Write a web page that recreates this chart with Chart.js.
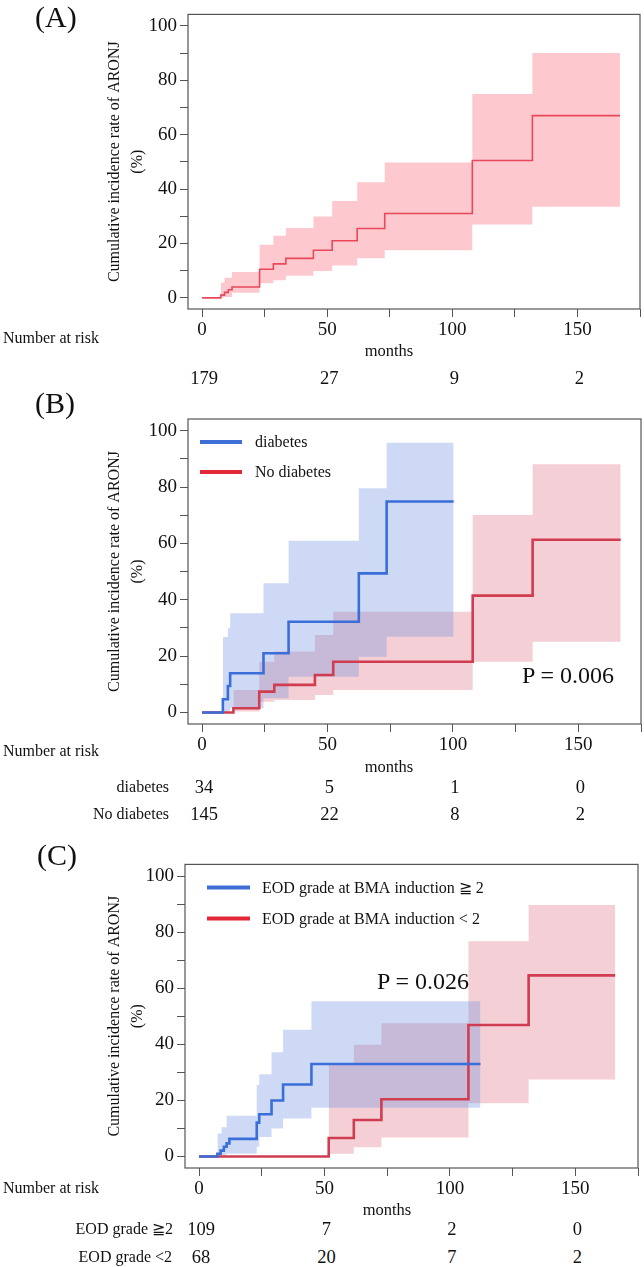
<!DOCTYPE html>
<html>
<head>
<meta charset="utf-8">
<script src="https://cdn.jsdelivr.net/npm/chart.js@4.4.1/dist/chart.umd.min.js"></script>
<style>
  body { margin: 0; background: #fff; }
  #fig { position: relative; width: 644px; height: 1267px; overflow: hidden;
         font-family: 'Liberation Serif', 'Times New Roman', serif; color: #111; }
  #fig canvas { position: absolute; left: 0; }
  .t { position: absolute; white-space: nowrap; line-height: 1; transform: translateY(-50%); }
  .t.c { transform: translate(-50%, -50%); }
  .t.r { transform: translate(-100%, -50%); }
</style>
</head>
<body>
<div id="fig">
  <canvas id="chartA" width="644" height="362" style="top:0px"></canvas>
  <canvas id="chartB" width="644" height="370" style="top:400px"></canvas>
  <canvas id="chartC" width="644" height="350" style="top:850px"></canvas>
</div>
<script>
// axes
const xTicks = [0, 25, 50, 75, 100, 125, 150, 175];
const xLabels = [0, 50, 100, 150];
const yTicks = [0, 10, 20, 30, 40, 50, 60, 70, 80, 90, 100];
const yLabels = [0, 20, 40, 60, 80, 100];
const riskMonths = [0, 50, 100, 150];
const yTitle = ['Cumulative incidence rate of ARONJ', '(%)'];

// (A) all patients
const aTime = [0, 7.5, 9, 10.5, 12, 23, 28.5, 33.5, 44.5, 52, 62, 73, 108, 132, 167];
const aRate = [0, 1, 2, 3, 4, 10.5, 12.5, 14.5, 17.5, 21, 25.5, 31, 50.5, 67, 67];
const aBandTime = [7.5, 9, 12, 23, 28.5, 33.5, 44.5, 52, 62, 73, 108, 132, 167];
const aUpper = [5.6, 7.4, 9.5, 19.5, 22.8, 25.7, 29.9, 35.6, 42.5, 49.8, 74.9, 90, 90];
const aLower = [0, 0.3, 1.9, 5.4, 6.5, 8.1, 9.9, 11.9, 14.6, 17.5, 27, 33.5, 33.5];
const aRisk = [179, 27, 9, 2];

// (B) diabetes / no diabetes
const bDiabTime = [0, 8.3, 10.3, 11.2, 24.5, 34.5, 62.5, 73.6, 100.3];
const bDiabRate = [0, 4.7, 9.4, 13.9, 21, 32.2, 49.4, 74.9, 74.9];
const bDiabBandTime = [8.3, 10.3, 11.2, 24.5, 34.5, 62.5, 73.6, 100.3];
const bDiabUpper = [26.8, 29.9, 35.2, 45.9, 61, 79.6, 95.8, 95.8];
const bDiabLower = [0, 0.5, 1.5, 5, 12.7, 19.8, 26.9, 26.9];
const bNoTime = [0, 12.5, 22.8, 28.8, 45, 52.3, 107.9, 131.8, 166.9];
const bNoRate = [0, 1.5, 7.4, 9.8, 13.3, 18, 41.5, 61.3, 61.3];
const bNoBandTime = [12.5, 22.8, 28.8, 45, 52.3, 107.9, 131.8, 166.9];
const bNoUpper = [8, 18, 21.6, 27.5, 35.8, 70.1, 88.1, 88.1];
const bNoLower = [0.3, 3.8, 4.4, 6.2, 8, 18, 25.1, 25.1];
const bRiskDiab = [34, 5, 1, 0];
const bRiskNo = [145, 22, 8, 2];

// (C) EOD grade at BMA induction
const cHighTime = [0, 7.3, 8.6, 9.9, 11, 12.1, 23, 24, 28.9, 33.5, 44.8, 112.2];
const cHighRate = [0, 1, 2.1, 3.5, 4.7, 6.3, 12.1, 15.1, 20, 25.7, 33, 33];
const cHighBandTime = [7.3, 9, 11, 23, 24, 28.9, 33.5, 44.8, 112.2];
const cHighUpper = [8.2, 10.4, 14.5, 25.5, 29.3, 37.2, 45.2, 55.4, 55.4];
const cHighLower = [0, 0.3, 1, 3.5, 7, 10, 13.6, 17.4, 17.4];
const cLowTime = [0, 51.7, 61.7, 72.7, 107.4, 131.4, 165.9];
const cLowRate = [0, 6.6, 13, 20.4, 46.9, 64.6, 64.6];
const cLowBandTime = [51.7, 61.7, 72.7, 107.4, 131.4, 165.9];
const cLowUpper = [32.8, 39.9, 47.5, 76.8, 89.7, 89.7];
const cLowLower = [1, 3.3, 6.8, 19, 27.5, 27.5];
const cRiskHigh = [109, 7, 2, 0];
const cRiskLow = [68, 20, 7, 2];

const BLUE = '#3a6ed8';
const RED = '#d03c50';
const BLUE_BAND = 'rgba(92,132,222,0.3)';
const RED_BAND = 'rgba(218,95,115,0.3)';

Chart.defaults.font.family = "'Liberation Serif', 'Times New Roman', serif";
Chart.defaults.color = '#111';

const pts = (xs, ys) => xs.map((x, i) => ({ x, y: ys[i] }));

const stepLine = (xs, ys, color, width, order) => ({
  data: pts(xs, ys), borderColor: color, borderWidth: width,
  stepped: true, fill: false, order
});
const band = (xs, upper, lower, color, order) => [
  { data: pts(xs, upper), borderWidth: 0, backgroundColor: color, stepped: true, fill: '+1', order },
  { data: pts(xs, lower), borderWidth: 0, stepped: true, fill: false, order }
];

// frame round the plot area + legend inside it
const framePlugin = (legend) => ({
  id: 'frame',
  afterDraw(chart) {
    const { ctx, chartArea: a } = chart;
    ctx.save();
    ctx.strokeStyle = '#555';
    ctx.lineWidth = 1.2;
    ctx.strokeRect(a.left, a.top, a.right - a.left, a.bottom - a.top);
    if (legend) {
      ctx.font = "16px 'Liberation Serif', serif";
      ctx.textBaseline = 'middle';
      legend.items.forEach((it, i) => {
        const y = a.top + legend.y + i * legend.gap;
        ctx.strokeStyle = it.color;
        ctx.lineWidth = 4;
        ctx.beginPath();
        ctx.moveTo(a.left + legend.x, y);
        ctx.lineTo(a.left + legend.x + legend.len, y);
        ctx.stroke();
        ctx.fillStyle = '#111';
        ctx.fillText(it.text, a.left + legend.tx, y + 1);
      });
    }
    ctx.restore();
  }
});

function makeChart(id, datasets, box, legend) {
  return new Chart(document.getElementById(id), {
    type: 'line',
    data: { datasets },
    options: {
      responsive: false,
      animation: false,
      events: [],
      layout: { padding: { top: box.top, right: box.right, left: 0, bottom: 0 } },
      plugins: { legend: { display: false }, tooltip: { enabled: false } },
      elements: { point: { radius: 0 } },
      scales: {
        x: {
          type: 'linear', min: -5.6, max: 175,
          afterBuildTicks: (s) => { s.ticks = xTicks.map((v) => ({ value: v })); },
          afterFit: (s) => { s.height = box.axisH; },
          border: { display: false },
          grid: { drawOnChartArea: false, tickLength: 8, color: '#555' },
          ticks: {
            padding: 2, font: { size: 19 }, maxRotation: 0, autoSkip: false,
            callback: (v) => (xLabels.includes(v) ? v : '')
          }
        },
        y: {
          type: 'linear', min: -4.1, max: 104.2,
          afterBuildTicks: (s) => { s.ticks = yTicks.map((v) => ({ value: v })); },
          afterFit: (s) => { s.width = box.left; },
          border: { display: false },
          grid: { drawOnChartArea: false, tickLength: 8, color: '#555' },
          ticks: {
            padding: 3, font: { size: 19 }, autoSkip: false,
            callback: (v) => (yLabels.includes(v) ? v : '')
          },
          title: {
            display: true, text: yTitle,
            font: { size: 16, lineHeight: 1.4 },
            padding: { top: 104, bottom: 0 }
          }
        }
      }
    },
    plugins: [framePlugin(legend)]
  });
}

const chartA = makeChart('chartA', [
  stepLine(aTime, aRate, '#e8485a', 1.6, 0),
  ...band(aBandTime, aUpper, aLower, '#fdc9cf', 2)
], { top: 3, right: 4, left: 188, axisH: 53 });

const chartB = makeChart('chartB', [
  stepLine(bDiabTime, bDiabRate, BLUE, 2.6, 0),
  stepLine(bNoTime, bNoRate, RED, 2.6, 1),
  ...band(bDiabBandTime, bDiabUpper, bDiabLower, BLUE_BAND, 2),
  ...band(bNoBandTime, bNoUpper, bNoLower, RED_BAND, 3)
], { top: 19, right: 3, left: 188, axisH: 46 }, {
  x: 12, len: 42, y: 23, gap: 30, tx: 67,
  items: [{ text: 'diabetes', color: '#3f6fd6' }, { text: 'No diabetes', color: '#e4283a' }]
});

const chartC = makeChart('chartC', [
  stepLine(cHighTime, cHighRate, BLUE, 2.6, 0),
  stepLine(cLowTime, cLowRate, RED, 2.6, 1),
  ...band(cHighBandTime, cHighUpper, cHighLower, BLUE_BAND, 2),
  ...band(cLowBandTime, cLowUpper, cLowLower, RED_BAND, 3)
], { top: 13, right: 6, left: 185, axisH: 32 }, {
  x: 22, len: 43, y: 23, gap: 31, tx: 77,
  items: [
    { text: 'EOD grade at BMA induction ≧ 2', color: '#3f6fd6' },
    { text: 'EOD grade at BMA induction < 2', color: '#e4283a' }
  ]
});

// texts laid over the canvases
const fig = document.getElementById('fig');
function addText(text, x, y, size, cls) {
  const d = document.createElement('div');
  d.className = 't' + (cls ? ' ' + cls : '');
  d.style.left = x + 'px';
  d.style.top = y + 'px';
  d.style.fontSize = size + 'px';
  d.textContent = text;
  fig.appendChild(d);
}
function riskRow(chart, values, y) {
  values.forEach((v, i) => addText(String(v), chart.scales.x.getPixelForValue(riskMonths[i]) + 2, y, 18.5, 'c'));
}

addText('(A)', 35, 17, 30);
addText('(B)', 35, 403, 30);
addText('(C)', 37, 855, 30);

addText('P = 0.006', 522, 675, 24);
addText('P = 0.026', 377, 981, 24);

addText('Number at risk', 3, 338, 16);
addText('months', 389, 351, 16.5, 'c');
riskRow(chartA, aRisk, 378);

addText('Number at risk', 3, 751, 16);
addText('months', 389, 767, 16.5, 'c');
addText('diabetes', 169, 787, 16, 'r');
addText('No diabetes', 169, 814, 16, 'r');
riskRow(chartB, bRiskDiab, 787);
riskRow(chartB, bRiskNo, 814);

addText('Number at risk', 3, 1188, 16);
addText('months', 387, 1210, 16.5, 'c');
addText('EOD grade ≧2', 173, 1229, 16, 'r');
addText('EOD grade <2', 172, 1257, 16, 'r');
riskRow(chartC, cRiskHigh, 1229);
riskRow(chartC, cRiskLow, 1257);
</script>
</body>
</html>
